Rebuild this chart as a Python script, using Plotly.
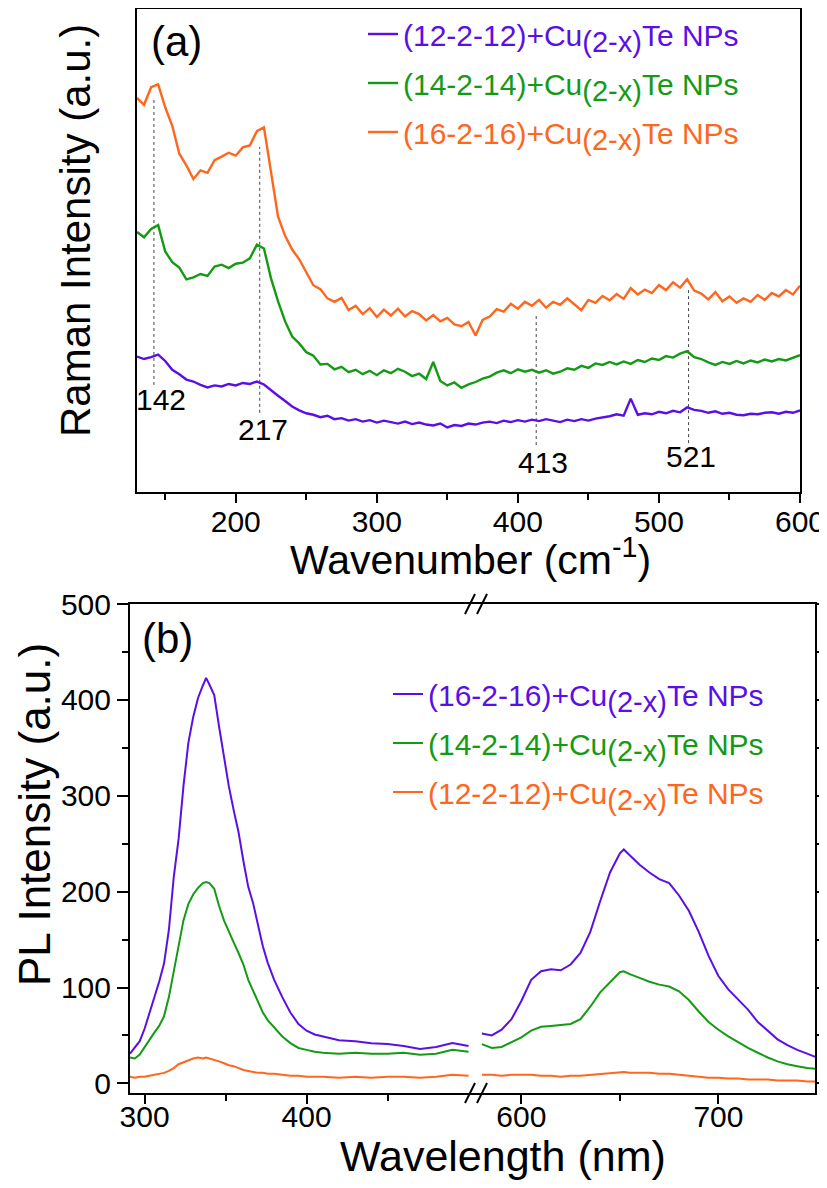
import plotly.graph_objects as go

# ---------------- (a) Raman spectra ----------------
RAMAN_WN = [130, 135, 140, 145, 150, 155, 160, 165, 170, 175, 180, 185, 190, 195, 200,
            205, 210, 215, 220, 225, 230, 235, 240, 245, 250, 255, 260, 265, 270, 275,
            280, 285, 290, 295, 300, 305, 310, 315, 320, 325, 330, 335, 340, 345, 350,
            355, 360, 365, 370, 375, 380, 385, 390, 395, 400, 405, 410, 415, 420, 425,
            430, 435, 440, 445, 450, 455, 460, 465, 470, 475, 480, 485, 490, 495, 500,
            505, 510, 515, 520, 525, 530, 535, 540, 545, 550, 555, 560, 565, 570, 575,
            580, 585, 590, 595, 600]
RAMAN_12 = [27.7, 27.2, 27.6, 28.1, 26.8, 25.0, 24.1, 23.0, 22.6, 21.9, 21.4, 21.8, 21.6, 22.1, 21.8,
            22.3, 22.1, 22.6, 22.0, 20.8, 19.7, 18.6, 17.5, 16.7, 16.1, 15.8, 15.3, 15.6, 14.9, 15.1,
            14.6, 14.9, 14.4, 14.7, 14.2, 14.6, 14.3, 14.0, 14.4, 13.9, 14.2, 13.8, 13.6, 14.0, 13.2,
            13.7, 13.5, 14.0, 13.8, 14.2, 14.4, 14.1, 14.6, 14.3, 14.7, 14.4, 14.8, 14.5, 14.9, 14.6,
            14.3, 14.8, 14.5, 14.9, 14.6, 15.0, 15.2, 15.5, 15.9, 15.6, 19.1, 15.8, 16.1, 15.9, 16.4,
            16.1, 16.6, 16.3, 17.3, 16.8, 16.6, 16.2, 16.5, 16.0, 16.2, 15.8, 15.7, 16.0, 15.9, 16.2,
            16.3, 16.0, 16.4, 16.2, 16.7]
RAMAN_14 = [53.2, 52.1, 53.8, 54.6, 49.2, 47.0, 45.9, 43.5, 43.9, 44.6, 44.2, 46.1, 46.5, 45.8, 46.7,
            46.9, 47.8, 50.6, 49.8, 43.7, 39.0, 34.9, 31.8, 30.4, 28.6, 27.9, 26.1, 26.2, 25.1, 25.6,
            24.5, 25.0, 24.1, 24.8, 23.9, 24.9, 24.3, 25.2, 24.6, 23.7, 24.2, 23.1, 26.6, 22.7, 21.8,
            22.4, 21.3, 22.0, 22.5, 23.2, 23.6, 24.4, 24.9, 24.3, 25.1, 24.6, 25.0, 24.4, 24.9, 24.2,
            24.6, 25.3, 25.0, 25.8, 25.4, 26.3, 26.0, 26.6, 26.1, 26.7, 26.2, 27.0, 26.6, 27.3, 27.0,
            27.8, 27.5, 28.3, 28.8, 27.6, 27.2, 26.5, 26.0, 26.6, 26.2, 26.8, 26.3, 26.9, 26.5, 27.1,
            26.7, 27.2, 26.9, 27.4, 28.0]
RAMAN_16 = [80.6, 79.2, 82.8, 83.4, 78.7, 74.9, 69.2, 66.8, 64.0, 65.8, 65.3, 67.9, 68.6, 69.4, 68.8,
            70.5, 70.9, 73.8, 74.6, 65.2, 56.3, 52.4, 49.6, 47.6, 44.9, 42.3, 41.5, 39.6, 38.9, 39.7,
            37.2, 38.1, 36.4, 37.6, 35.8, 37.3, 36.1, 37.5, 35.9, 37.0, 36.4, 35.1, 36.2, 34.9, 35.6,
            34.3, 33.9, 34.8, 32.0, 35.2, 35.9, 37.4, 36.9, 38.5, 37.5, 38.9, 38.1, 39.3, 37.7, 38.9,
            38.3, 39.6, 38.4, 37.2, 39.3, 38.7, 40.1, 39.2, 40.5, 39.5, 41.7, 40.4, 41.4, 40.7, 42.3,
            41.3, 42.9, 41.8, 43.5, 41.2, 40.6, 39.4, 40.9, 39.0, 40.0, 38.7, 39.6, 38.9, 40.3, 39.3,
            40.7, 40.0, 41.3, 40.4, 42.2]

PEAK_WN = [142, 217, 413, 521]
PEAK_TOP = [80.8, 70.6, 36.6, 41.3]
PEAK_BOTTOM = [21.9, 16.2, 9.6, 10.0]
PEAK_LABEL_X = [147, 219, 418, 523]
PEAK_LABEL_Y = [19.0, 12.7, 6.1, 7.2]

# ---------------- (b) PL spectra (broken wavelength axis) ----------------
PL_WL_LEFT = [291, 294, 297, 300, 303, 306, 309, 312, 315, 318, 321, 324, 327, 330, 333, 336,
              338, 340, 343, 346, 349, 352, 355, 358, 361, 364, 367, 370, 373, 376, 380, 385,
              390, 395, 400, 405, 410, 420, 430, 440, 450, 460, 470, 480, 490, 500]
PL_16_LEFT = [31, 37, 44, 57, 73, 88, 106, 125, 160, 215, 255, 310, 355, 382, 402, 415,
              423, 416, 405, 372, 340, 310, 285, 262, 232, 205, 188, 165, 143, 126, 108, 90,
              74, 62, 55, 51, 49, 45, 44, 42, 41, 39, 36, 38, 42, 39]
PL_14_LEFT = [27, 26, 30, 38, 46, 53, 60, 70, 90, 118, 145, 170, 187, 197, 204, 209,
              210, 209, 203, 185, 170, 158, 147, 136, 124, 108, 96, 84, 74, 66, 58, 49,
              42, 37, 35, 33, 32, 31, 32, 31, 31, 32, 30, 31, 35, 33]
PL_12_LEFT = [7, 6, 7, 7, 8, 9, 10, 11, 13, 16, 20, 22, 24, 26, 27, 26,
              27, 26, 25, 23, 21, 19, 18, 16, 14, 13, 12, 11, 11, 10, 10, 9,
              8, 8, 7, 7, 7, 6, 7, 6, 7, 7, 6, 7, 9, 8]

PL_WL_RIGHT = [580, 585, 590, 595, 600, 605, 610, 615, 620, 625, 630, 635, 640, 645, 650, 652,
               655, 660, 665, 670, 675, 680, 685, 690, 695, 700, 705, 710, 715, 720, 725, 730,
               735, 740, 745, 750]
PL_16_RIGHT = [52, 50, 56, 67, 86, 108, 117, 119, 118, 124, 136, 158, 190, 220, 240, 244,
               238, 228, 220, 213, 209, 196, 180, 158, 133, 112, 98, 87, 77, 64, 55, 46,
               40, 35, 31, 27]
PL_14_RIGHT = [41, 37, 38, 43, 48, 55, 59, 60, 61, 62, 67, 80, 95, 106, 116, 117,
               114, 110, 106, 103, 101, 96, 87, 75, 64, 56, 49, 43, 37, 32, 27, 23,
               20, 18, 16, 15]
PL_12_RIGHT = [9, 9, 8, 9, 9, 9, 8, 8, 7, 8, 8, 9, 10, 11, 12, 12,
               11, 11, 11, 10, 10, 9, 8, 7, 6, 6, 5, 5, 4, 4, 4, 3,
               3, 3, 2, 2]

PURPLE = "#5A0FE6"
GREEN = "#159A15"
ORANGE = "#FF661E"
FONT = "Liberation Sans, Arial, sans-serif"

# the page body adds an 8 px margin, so the figure is laid out in page pixels
# minus that offset and kept short enough not to overflow the window
OFF = 8
W, H = 827 - OFF, 1188 - 2 * OFF


def fx(p):
    return (p - OFF) / W


def fy(p):
    return 1 - (p - OFF) / H


def label(sample, color):
    return (f'<span style="color:{color}">({sample})+Cu'
            f'<sub><span style="font-size:29px">(2-x)</span></sub>Te NPs</span>')


fig = go.Figure()

# panel (a)
for ys, sample, color in ((RAMAN_12, "12-2-12", PURPLE),
                          (RAMAN_14, "14-2-14", GREEN),
                          (RAMAN_16, "16-2-16", ORANGE)):
    fig.add_trace(go.Scatter(x=RAMAN_WN, y=ys, mode="lines", name=label(sample, color),
                             line=dict(color=color, width=2.4), xaxis="x", yaxis="y",
                             legend="legend", legendgroup="a" + sample))

# panel (b)
for left, right, sample, color in ((PL_16_LEFT, PL_16_RIGHT, "16-2-16", PURPLE),
                                   (PL_14_LEFT, PL_14_RIGHT, "14-2-14", GREEN),
                                   (PL_12_LEFT, PL_12_RIGHT, "12-2-12", ORANGE)):
    fig.add_trace(go.Scatter(x=PL_WL_LEFT, y=left, mode="lines", name=label(sample, color),
                             line=dict(color=color, width=2), xaxis="x2", yaxis="y2",
                             legend="legend2", legendgroup="b" + sample))
    fig.add_trace(go.Scatter(x=PL_WL_RIGHT, y=right, mode="lines", name=sample,
                             line=dict(color=color, width=2), xaxis="x3", yaxis="y3",
                             legendgroup="b" + sample, showlegend=False))

# peak guide lines and labels
for wn, top, bottom, lx, ly in zip(PEAK_WN, PEAK_TOP, PEAK_BOTTOM, PEAK_LABEL_X, PEAK_LABEL_Y):
    fig.add_shape(type="line", xref="x", yref="y", x0=wn, x1=wn, y0=bottom, y1=top,
                  line=dict(color="#444", width=1, dash="dot"), layer="below")
    fig.add_annotation(x=lx, y=ly, xref="x", yref="y", text=str(wn), showarrow=False,
                       xanchor="center", yanchor="middle", font=dict(size=30, color="black"))

# axis break marks on the top and bottom edges of panel (b)
for yanchor in (1, 0):
    for dx in (-6, 6):
        fig.add_shape(type="line", xref="x2 domain", yref="y2 domain", xsizemode="pixel",
                      ysizemode="pixel", xanchor=1, yanchor=yanchor,
                      x0=dx - 5, x1=dx + 5, y0=-10, y1=10,
                      line=dict(color="black", width=2))

axis_common = dict(showline=True, linecolor="black", linewidth=2, showgrid=False,
                   zeroline=False, ticks="outside", tickcolor="black", tickwidth=2,
                   tickfont=dict(size=30, color="black", family=FONT))
minor_ticks = dict(ticklen=6, tickwidth=2, ticks="outside", tickcolor="black")
legend_common = dict(xanchor="left", yanchor="top", bgcolor="rgba(0,0,0,0)",
                     font=dict(size=30, family=FONT), tracegroupgap=7, traceorder="grouped")

fig.update_layout(
    width=W, height=H, margin=dict(l=0, r=0, t=0, b=0),
    template="none", paper_bgcolor="white", plot_bgcolor="white",
    font=dict(family=FONT, color="black"),
    xaxis=dict(axis_common, domain=[fx(137), fx(800)], range=[130, 600], dtick=100,
               ticklen=9, ticklabelstandoff=-7, ticklabeloverflow="allow", mirror=True,
               anchor="y", minor=dict(minor_ticks, dtick=50)),
    yaxis=dict(axis_common, domain=[fy(492), fy(9)], range=[0, 98.8], ticks="",
               showticklabels=False, mirror=True, anchor="x"),
    xaxis2=dict(axis_common, domain=[fx(130), fx(476)], range=[291, 504.6],
                tickmode="array", tickvals=[300, 400], ticklen=9, ticklabelstandoff=-13,
                mirror=True, anchor="y2",
                minor=dict(minor_ticks, tickmode="array", tickvals=[350, 450])),
    xaxis3=dict(axis_common, domain=[fx(476), fx(815)], range=[577, 749],
                tickmode="array", tickvals=[600, 700], ticklen=9, ticklabelstandoff=-13,
                mirror=True, anchor="y3",
                minor=dict(minor_ticks, tickmode="array", tickvals=[650])),
    yaxis2=dict(axis_common, domain=[fy(1093), fy(604)], range=[-10, 500], dtick=100,
                ticklen=11, anchor="x2", minor=dict(minor_ticks, dtick=50)),
    yaxis3=dict(axis_common, domain=[fy(1093), fy(604)], range=[-10, 500], dtick=100,
                ticklen=4, anchor="x3", side="right", matches="y2", showticklabels=False,
                minor=dict(minor_ticks, dtick=50, ticklen=3)),
    legend=dict(legend_common, x=fx(363), y=fy(8)),
    legend2=dict(legend_common, x=fx(388), y=fy(668)),
    showlegend=True,
)

# panel labels and axis titles
titles = [
    ("(a)", 176, 41, 0, 42),
    ("(b)", 167, 638, 0, 42),
    ("Wavenumber (cm<sup>-1</sup>)", 470, 557, 0, 41),
    ("Wavelength (nm)", 503, 1156, 0, 43),
    ("Raman Intensity (a.u.)", 75, 231, -90, 42),
    ("PL Intensity (a.u.)", 34, 815, -90, 44),
]
for text, px, py, angle, size in titles:
    fig.add_annotation(x=fx(px), y=fy(py), xref="paper", yref="paper", text=text,
                       textangle=angle, xanchor="center", yanchor="middle",
                       showarrow=False, font=dict(size=size))

fig.write_html("out.html")
